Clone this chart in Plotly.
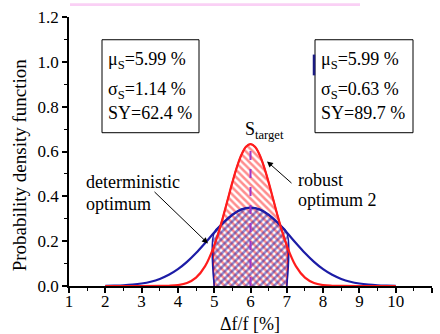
import plotly.graph_objects as go

# ---- data ----
x_det = [2.0, 2.25, 2.5, 2.75, 3.0, 3.25, 3.5, 3.75, 4.0, 4.25, 4.5, 4.75, 5.0, 5.25, 5.5, 5.75,
         6.0, 6.25, 6.5, 6.75, 7.0, 7.25, 7.5, 7.75, 8.0, 8.25, 8.5, 8.75, 9.0, 9.25, 9.5, 9.75, 10.0]
pdf_det = [0.0007, 0.0016, 0.0031, 0.0060, 0.0110, 0.0191, 0.0316, 0.0499, 0.0751, 0.1077, 0.1473,
           0.1918, 0.2382, 0.2819, 0.3179, 0.3417, 0.3500, 0.3417, 0.3179, 0.2819, 0.2382, 0.1918,
           0.1473, 0.1077, 0.0751, 0.0499, 0.0316, 0.0191, 0.0110, 0.0060, 0.0031, 0.0016, 0.0007]

x_rob = [2.0, 3.0, 3.5, 3.75, 4.0, 4.25, 4.5, 4.75, 5.0, 5.125, 5.25, 5.375, 5.5, 5.625, 5.75, 5.875,
         6.0, 6.125, 6.25, 6.375, 6.5, 6.625, 6.75, 6.875, 7.0, 7.25, 7.5, 7.75, 8.0, 8.25, 8.5, 9.0, 10.0]
pdf_rob = [0.0, 0.0, 0.0002, 0.0011, 0.0041, 0.0134, 0.0372, 0.0885, 0.1797, 0.2414, 0.3117, 0.3871,
           0.4621, 0.5304, 0.5853, 0.6209, 0.6332, 0.6209, 0.5853, 0.5304, 0.4621, 0.3871, 0.3117,
           0.2414, 0.1797, 0.0885, 0.0372, 0.0134, 0.0041, 0.0011, 0.0002, 0.0, 0.0]

spec_lo, spec_hi = 5.0, 7.0
s_target = 6.0

box_det = ["μ<sub>S</sub>=5.99 %", "σ<sub>S</sub>=1.14 %", "SY=62.4 %"]
box_rob = ["μ<sub>S</sub>=5.99 %", "σ<sub>S</sub>=0.63 %", "SY=89.7 %"]

x_ticks = list(range(1, 12))
y_ticks = [0.0, 0.2, 0.4, 0.6, 0.8, 1.0, 1.2]

BLUE = "#1c1ca6"
RED = "#ff1c1c"
FONT = "Liberation Serif, Times New Roman, serif"

def region(xs, ys):
    px = [x for x in xs if spec_lo <= x <= spec_hi]
    py = [y for x, y in zip(xs, ys) if spec_lo <= x <= spec_hi]
    return [px[0]] + px + [px[-1]], [0] + py + [0]

fig = go.Figure()

rx, ry = region(x_rob, pdf_rob)
fig.add_trace(go.Scatter(x=rx, y=ry, mode="lines", fill="toself", line=dict(color=RED, width=1.5),
                         line_shape="spline", fillcolor="rgba(0,0,0,0)",
                         fillpattern=dict(shape="\\", fgcolor=RED, bgcolor="rgba(255,255,255,0)",
                                          size=5, solidity=0.5),
                         hoverinfo="skip", showlegend=False))
bx, by = region(x_det, pdf_det)
fig.add_trace(go.Scatter(x=bx, y=by, mode="lines", fill="toself", line=dict(color=BLUE, width=1.5),
                         line_shape="spline", fillcolor="rgba(0,0,0,0)",
                         fillpattern=dict(shape="/", fgcolor=BLUE, bgcolor="rgba(255,255,255,0)",
                                          size=5, solidity=0.5),
                         hoverinfo="skip", showlegend=False))

fig.add_trace(go.Scatter(x=x_det, y=pdf_det, mode="lines", line=dict(color=BLUE, width=2.2),
                         line_shape="spline", showlegend=False))
fig.add_trace(go.Scatter(x=x_rob, y=pdf_rob, mode="lines", line=dict(color=RED, width=2.2),
                         line_shape="spline", showlegend=False))
fig.add_trace(go.Scatter(x=[s_target, s_target], y=[0, max(pdf_rob)], mode="lines",
                         line=dict(color="#a035c8", width=2, dash="dash"), showlegend=False))

W, H = 440, 334
L, R, T, B = 69, 8, 14, 48
pw, ph = W - L - R, H - T - B

def xp(px):
    return (px - L) / pw

def yp(py):
    return (T + ph - py) / ph

shapes = [
    dict(type="rect", xref="paper", yref="paper", x0=xp(102), x1=xp(199), y0=yp(131), y1=yp(37),
         line=dict(color="black", width=1)),
    dict(type="rect", xref="paper", yref="paper", x0=xp(315), x1=xp(413), y0=yp(131), y1=yp(37),
         line=dict(color="black", width=1)),
    dict(type="line", xref="paper", yref="paper", x0=xp(314), x1=xp(314), y0=yp(73), y1=yp(52),
         line=dict(color="#1a1a80", width=2.5)),
    dict(type="rect", xref="paper", yref="paper", x0=xp(70), x1=xp(360), y0=yp(3), y1=yp(0),
         fillcolor="#fad0f5", line=dict(width=0)),
]

ann = []
for i, (ypx) in enumerate([58, 88, 111]):
    ann.append(dict(xref="paper", yref="paper", x=xp(106), y=yp(ypx), text=box_det[i],
                    showarrow=False, xanchor="left", yanchor="middle", font=dict(size=18)))
    ann.append(dict(xref="paper", yref="paper", x=xp(319), y=yp(ypx), text=box_rob[i],
                    showarrow=False, xanchor="left", yanchor="middle", font=dict(size=18)))

ann += [
    dict(xref="paper", yref="paper", x=xp(84), y=yp(181), text="deterministic", showarrow=False,
         xanchor="left", yanchor="middle", font=dict(size=18)),
    dict(xref="paper", yref="paper", x=xp(84), y=yp(203), text="optimum", showarrow=False,
         xanchor="left", yanchor="middle", font=dict(size=18)),
    dict(xref="paper", yref="paper", x=xp(296), y=yp(179), text="robust", showarrow=False,
         xanchor="left", yanchor="middle", font=dict(size=18)),
    dict(xref="paper", yref="paper", x=xp(296), y=yp(199), text="optimum 2", showarrow=False,
         xanchor="left", yanchor="middle", font=dict(size=18)),
    dict(xref="paper", yref="paper", x=xp(264), y=yp(129), text="S<sub>target</sub>", showarrow=False,
         xanchor="center", yanchor="middle", font=dict(size=18)),
    dict(xref="paper", yref="paper", x=xp(208), y=yp(243), text="", showarrow=True,
         ax=-55, ay=-53, arrowhead=2, arrowsize=1.2, arrowwidth=1, arrowcolor="black", standoff=0),
    dict(xref="paper", yref="paper", x=xp(267), y=yp(160), text="", showarrow=True,
         ax=26, ay=23, arrowhead=2, arrowsize=1.2, arrowwidth=1, arrowcolor="black", standoff=0),
    dict(xref="paper", yref="paper", x=xp(19), y=yp(164), text="Probability density function",
         showarrow=False, textangle=-90, xanchor="center", yanchor="middle", font=dict(size=19)),
    dict(xref="paper", yref="paper", x=xp(250), y=yp(324), text="Δf/f [%]",
         showarrow=False, xanchor="center", yanchor="middle", font=dict(size=18)),
]

fig.update_layout(
    width=W, height=H, margin=dict(l=L, r=R, t=T, b=B, pad=0),
    paper_bgcolor="white", plot_bgcolor="white",
    font=dict(family=FONT, color="black", size=17),
    shapes=shapes, annotations=ann,
)
fig.update_xaxes(range=[1, 11], tickvals=x_ticks, ticktext=[str(v) for v in x_ticks],
                 showgrid=False, zeroline=False, showline=True, linecolor="black", linewidth=1.8,
                 ticks="outside", ticklen=5, tickwidth=1.5, tickcolor="black",
                 minor=dict(dtick=0.5, ticks="outside", ticklen=3, tickwidth=1.2, tickcolor="black"),
                 tickfont=dict(size=17), ticklabelstandoff=-6)
fig.update_yaxes(range=[0, 1.2], tickvals=y_ticks, ticktext=[f"{v:.1f}" for v in y_ticks],
                 showgrid=False, zeroline=False, showline=True, linecolor="black", linewidth=1.8,
                 ticks="outside", ticklen=5, tickwidth=1.5, tickcolor="black",
                 minor=dict(dtick=0.1, ticks="outside", ticklen=3, tickwidth=1.2, tickcolor="black"),
                 tickfont=dict(size=17))

fig.write_html("out.html")
